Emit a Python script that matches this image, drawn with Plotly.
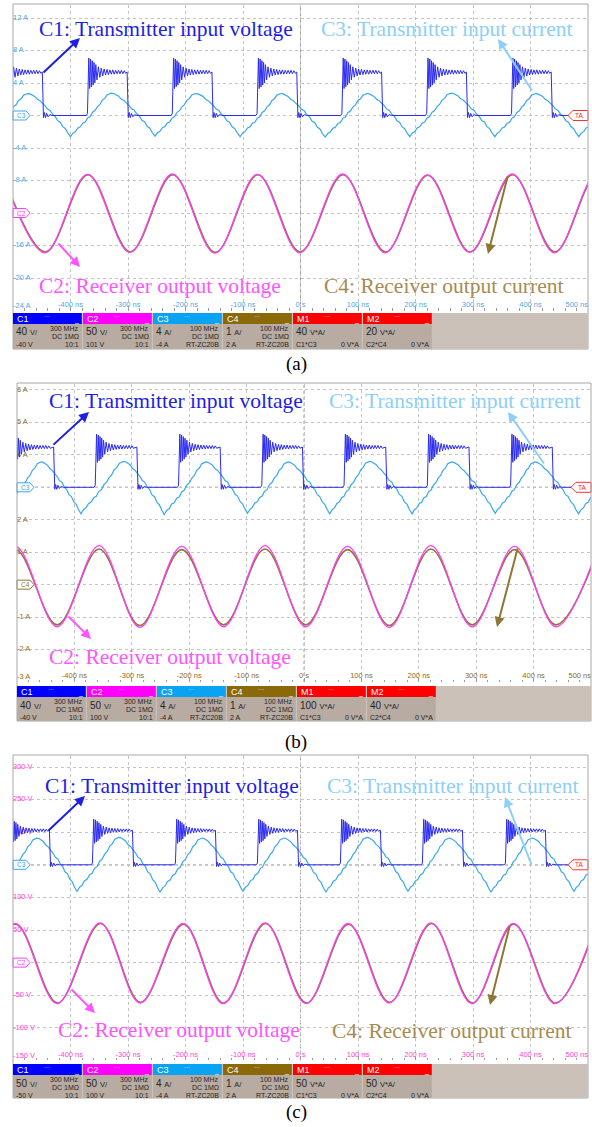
import plotly.graph_objects as go

W, H = 592, 1127

# ---------------------------------------------------------------- shared data
TIME_TICKS = [-400, -300, -200, -100, 0, 100, 200, 300, 400, 500]
TIME_TEXT = ["-400 ns", "-300 ns", "-200 ns", "-100 ns", "0 s",
             "100 ns", "200 ns", "300 ns", "400 ns", "500 ns"]

# C1 edge shape, normalised to low = 0 / high = 1, offsets in ns from the edge
C1_RISE_OFFSET = [-3.0, -1.0, 0.4, 1.3, 2.8, 4.3, 5.8, 7.3, 8.8, 10.3, 11.8, 13.5, 15.5,
                  18.0, 20.5, 23.0, 25.5, 28.0, 30.5, 33.0, 35.5, 38.0, 40.5, 43.0, 45.5,
                  48.0, 50.5, 53.0, 55.5, 58.0, 60.5, 63.0, 65.5]
C1_RISE_SHAPE = [0.0, 0.05, 0.9, 1.32, 0.62, 1.3, 0.66, 1.26, 0.7, 1.22, 0.75, 1.17, 0.82,
                 1.12, 0.88, 1.09, 0.91, 1.07, 0.93, 1.06, 0.94, 1.05, 0.95, 1.05, 0.95,
                 1.04, 0.96, 1.04, 0.96, 1.04, 0.96, 1.03, 0.97]
C1_FALL_OFFSET = [-1.0, 1.0, 2.5, 4.5, 6.5, 9.0, 12.0, 16.0]
C1_FALL_SHAPE = [1.0, -0.05, 0.07, -0.05, 0.05, -0.03, 0.02, 0.0]

# C3 half-cycle shapes (peak -> trough and trough -> peak), normalised to +-1
C3_DOWN_U = [0.0, 0.05, 0.1, 0.16, 0.22, 0.28, 0.34, 0.4, 0.46, 0.52, 0.58, 0.64, 0.7,
             0.76, 0.82, 0.88, 0.94, 1.0]
C3_DOWN_SHAPE = [1.0, 0.985, 0.94, 0.87, 0.74, 0.67, 0.55, 0.44, 0.28, 0.22, 0.04, -0.06,
                 -0.26, -0.33, -0.54, -0.63, -0.84, -1.0]
C3_UP_U = [0.0, 0.06, 0.12, 0.18, 0.24, 0.3, 0.36, 0.42, 0.48, 0.54, 0.6, 0.66, 0.72,
           0.78, 0.84, 0.9, 0.95, 1.0]
C3_UP_SHAPE = [-1.0, -0.84, -0.77, -0.6, -0.55, -0.38, -0.33, -0.14, -0.08, 0.12, 0.2, 0.38,
               0.48, 0.68, 0.76, 0.93, 0.97, 1.0]

CH_NAMES = ["C1", "C2", "C3", "C4"]
CH_BANDWIDTH = ["300 MHz", "300 MHz", "100 MHz", "100 MHz"]
CH_COUPLING = ["DC 1MΩ", "DC 1MΩ", "DC 1MΩ", "DC 1MΩ"]
CH_PROBE = ["10:1", "10:1", "RT-ZC20B", "RT-ZC20B"]
MATH_NAMES = ["M1", "M2"]
MATH_SOURCE = ["C1*C3", "C2*C4"]
MATH_OFFSET = ["0 V*A", "0 V*A"]

# ---------------------------------------------------------------- panel (a)
A_YTICKS = [12, 8, 4, -4, -8, -16, -20, -24]
A_YTEXT = ["12 A", "8 A", "4 A", "-4 A", "-8 A", "-16 A", "-20 A", "-24 A"]
A_C1_RISE = [-517.0, -369.5, -222.0, -74.5, 73.0, 220.5, 368.0]
A_C1_FALL = [-448.0, -300.5, -153.0, -5.5, 142.0, 289.5, 437.0]
A_C1_LEVEL = [0.0, 5.35]
A_C3_T = [-548, -474, -400, -329, -253, -182, -105, -34, 43, 116, 190, 262, 338, 409, 484, 555]
A_C3_V = [-2.6, 2.7, -2.6, 2.75, -2.55, 2.7, -2.6, 2.7, -2.65, 2.7, -2.6, 2.75, -2.6, 2.7, -2.6, 2.7]
A_C2_T = [-518, -444.5, -370.5, -297, -223, -149, -75, -1.5, 73, 147, 220.5, 294, 368, 441.5, 515.5, 589]
A_C2_V = [-7.2, -16.9, -7.25, -16.85, -7.2, -16.95, -7.25, -16.9, -7.2, -16.9, -7.3, -16.85,
          -7.2, -16.9, -7.25, -16.9]
A_C4_T = [-517, -443.5, -369.5, -296, -222, -148, -74, -0.5, 74, 148, 221.5, 295, 369, 442.5, 516.5, 590]
A_C4_V = [-7.3, -16.8, -7.3, -16.8, -7.3, -16.85, -7.3, -16.8, -7.3, -16.8, -7.35, -16.8,
          -7.3, -16.8, -7.3, -16.8]
A_CH_SCALE = ["40 V/", "50 V/", "4 A/", "1 A/"]
A_CH_OFFSET = ["-40 V", "101 V", "-4 A", "2 A"]
A_MATH_SCALE = ["40 V*A/", "20 V*A/"]

# ---------------------------------------------------------------- panel (b)
B_YTICKS = [6, 5, 4, 2, 1, -1, -2, -3]
B_YTEXT = ["6 A", "5 A", "4 A", "2 A", "1 A", "-1 A", "-2 A", "-3 A"]
B_C1_RISE = [-507.8, -362.7, -217.6, -72.5, 70.8, 215.9, 361.0]
B_C1_FALL = [-435.2, -290.2, -145.1, -1.7, 143.4, 288.4, 433.5]
B_C1_LEVEL = [3.0, 4.24]
B_C3_T = [-528, -457.7, -388.6, -314.3, -243.5, -171, -98.4, -27.6, 44.9, 114, 188.3, 257.3,
          333.3, 402.4, 478.4, 548]
B_C3_V = [2.18, 3.78, 2.18, 3.8, 2.16, 3.78, 2.2, 3.78, 2.18, 3.8, 2.18, 3.78, 2.2, 3.78, 2.18, 3.78]
B_C2_T = [-575, -503, -430, -357, -286, -213, -140, -68, 3, 76, 148.5, 221, 293, 367, 439, 513]
B_C2_V = [-1.3, 1.18, -1.3, 1.2, -1.32, 1.18, -1.3, 1.2, -1.3, 1.18, -1.32, 1.2, -1.3, 1.18, -1.3, 1.2]
B_C4_T = [-575, -503, -430, -357, -286, -213, -140, -68, 3, 76, 148.5, 221, 293, 367, 439, 513]
B_C4_V = [-1.24, 1.08, -1.24, 1.1, -1.26, 1.08, -1.24, 1.1, -1.24, 1.08, -1.26, 1.1, -1.24, 1.08, -1.24, 1.1]
B_CH_SCALE = ["40 V/", "50 V/", "4 A/", "1 A/"]
B_CH_OFFSET = ["-40 V", "100 V", "-4 A", "2 A"]
B_MATH_SCALE = ["100 V*A/", "40 V*A/"]

# ---------------------------------------------------------------- panel (c)
C_YTICKS = [300, 250, 200, 100, 50, -50, -100, -150]
C_YTEXT = ["300 V", "250 V", "200 V", "100 V", "50 V", "-50 V", "-100 V", "-150 V"]
C_C1_RISE = [-505.2, -360.9, -216.5, -73.9, 70.4, 213.0, 357.4]
C_C1_FALL = [-435.7, -291.3, -147.0, -4.3, 140.0, 282.6, 426.9]
C_C1_LEVEL = [150.0, 203.0]
C_C3_T = [-531, -458.3, -388.7, -315.7, -244.3, -171.3, -100, -28.7, 44.3, 115.7, 186.9, 258.3,
          331.3, 402.6, 475.7, 545]
C_C3_V = [109, 191, 109, 192, 108, 191, 109, 191, 108, 192, 109, 191, 108, 191, 109, 191]
C_C2_T = [-570, -496.5, -423.5, -348.7, -279, -204.3, -134.8, -61.7, 9.6, 82.6, 154, 227, 298,
          370, 442.6, 514]
C_C2_V = [-63, 60, -63, 61, -62, 60, -63, 61, -63, 60, -62, 61, -63, 60, -63, 61]
C_C4_T = [-569, -495.5, -422.5, -347.7, -278, -203.3, -133.8, -60.7, 10.6, 83.6, 155, 228, 299,
          371, 443.6, 515]
C_C4_V = [-62, 59, -62, 60, -61, 59, -62, 60, -62, 59, -61, 60, -62, 59, -62, 60]
C_CH_SCALE = ["50 V/", "50 V/", "4 A/", "1 A/"]
C_CH_OFFSET = ["-50 V", "100 V", "-4 A", "2 A"]
C_MATH_SCALE = ["50 V*A/", "50 V*A/"]

# ---------------------------------------------------------------- styles
COL_C1 = "#2b2bf2"
COL_C2 = "#ff3cff"
COL_C3 = "#3aa8ee"
COL_C4 = "#8e7636"
TXT_C1 = "#1e1ee6"
TXT_C2 = "#ff55ff"
TXT_C3 = "#8dcffa"
TXT_C4 = "#a68b52"
HEAD_COLORS = ["#0000ff", "#ff00ff", "#0aa2f2", "#8b6808", "#ff0000", "#ff0000"]
BODY_COLOR = "#b8aba1"
REST_COLOR = "#ccc1b9"
SANS = "Liberation Sans"
SERIF = "Liberation Serif"


def c1_wave(rises, falls, levels):
    low, high = levels
    step = high - low
    t, v = [rises[0] - 40.0], [low]
    for r, f in zip(rises, falls):
        for o, s in zip(C1_RISE_OFFSET, C1_RISE_SHAPE):
            if r + o < f - 1.0:
                t.append(r + o)
                v.append(low + step * s)
        for o, s in zip(C1_FALL_OFFSET, C1_FALL_SHAPE):
            t.append(f + o)
            v.append(low + step * s)
    t.append(560.0)
    v.append(low)
    return t, v


def c3_wave(ext_t, ext_v):
    t, v = [], []
    for i in range(len(ext_t) - 1):
        t0, t1, v0, v1 = ext_t[i], ext_t[i + 1], ext_v[i], ext_v[i + 1]
        us, shape = (C3_DOWN_U, C3_DOWN_SHAPE) if v1 < v0 else (C3_UP_U, C3_UP_SHAPE)
        mid, half = (v0 + v1) / 2.0, abs(v0 - v1) / 2.0
        for u, s in zip(us[:-1], shape[:-1]):
            t.append(t0 + u * (t1 - t0))
            v.append(mid + half * s)
    t.append(ext_t[-1])
    v.append(ext_v[-1])
    return t, v


PANELS = [
    dict(caption="(a)", left=13, right=588, top=5, bottom=310.5, ylo=-24, div=4, pxdiv=32.5,
         bar=(313, 324, 349), cap_y=364, axis_col="#4ea8e6",
         yticks=A_YTICKS, ytext=A_YTEXT,
         c1=(A_C1_RISE, A_C1_FALL, A_C1_LEVEL), c3=(A_C3_T, A_C3_V),
         c2=(A_C2_T, A_C2_V), c4=(A_C4_T, A_C4_V),
         scale=A_CH_SCALE, offset=A_CH_OFFSET, mscale=A_MATH_SCALE,
         tags=[("C3", 0, COL_C3, COL_C3), ("C2", -12, COL_C2, COL_C2)], trig=0,
         labels=[("C1: Transmitter input voltage", TXT_C1, 166, 29),
                 ("C3: Transmitter input current", TXT_C3, 446, 29),
                 ("C2: Receiver output voltage", TXT_C2, 160, 286),
                 ("C4: Receiver output current", TXT_C4, 443, 286)],
         arrows=[(TXT_C1, 42, 74, 80, 38), (TXT_C3, 533, 92, 498, 39),
                 (TXT_C2, 57, 242, 80, 267), (COL_C4, 508, 175, 488, 254)]),
    dict(caption="(b)", left=17, right=591, top=384, bottom=682, ylo=-3, div=1, pxdiv=32.45,
         bar=(686, 697, 721), cap_y=742, axis_col="#8c6d22",
         yticks=B_YTICKS, ytext=B_YTEXT,
         c1=(B_C1_RISE, B_C1_FALL, B_C1_LEVEL), c3=(B_C3_T, B_C3_V),
         c2=(B_C2_T, B_C2_V), c4=(B_C4_T, B_C4_V),
         scale=B_CH_SCALE, offset=B_CH_OFFSET, mscale=B_MATH_SCALE,
         tags=[("C3", 3, COL_C3, COL_C3), ("C4", 0, COL_C4, COL_C4)], trig=3,
         labels=[("C1: Transmitter input voltage", TXT_C1, 176, 401),
                 ("C3: Transmitter input current", TXT_C3, 455, 401),
                 ("C2: Receiver output voltage", TXT_C2, 170, 657)],
         arrows=[(TXT_C1, 52, 446, 89, 412), (TXT_C3, 545, 465, 508, 412),
                 (TXT_C2, 67, 615, 91, 639), (COL_C4, 518, 547, 497, 627)]),
    dict(caption="(c)", left=13, right=588, top=756, bottom=1060.4, ylo=-150, div=50, pxdiv=32.6,
         bar=(1064, 1075, 1098), cap_y=1112, axis_col="#ff3fd2",
         yticks=C_YTICKS, ytext=C_YTEXT,
         c1=(C_C1_RISE, C_C1_FALL, C_C1_LEVEL), c3=(C_C3_T, C_C3_V),
         c2=(C_C2_T, C_C2_V), c4=(C_C4_T, C_C4_V),
         scale=C_CH_SCALE, offset=C_CH_OFFSET, mscale=C_MATH_SCALE,
         tags=[("C3", 150, COL_C3, COL_C3), ("C2", 0, COL_C2, COL_C2)], trig=150,
         labels=[("C1: Transmitter input voltage", TXT_C1, 172, 786),
                 ("C3: Transmitter input current", TXT_C3, 452, 786),
                 ("C2: Receiver output voltage", TXT_C2, 179, 1030),
                 ("C4: Receiver output current", TXT_C4, 451, 1031)],
         arrows=[(TXT_C1, 47, 832, 85, 796), (TXT_C3, 532, 866, 505, 797),
                 (TXT_C2, 70, 988, 95, 1013), (COL_C4, 510, 925, 490, 1005)]),
]


def PX(x):
    return x / W


def PY(y):
    return 1.0 - y / H


fig = go.Figure()
shapes, annots, axes = [], [], {}


def rect(x0, y0, x1, y1, fill, line=None):
    shapes.append(dict(type="rect", xref="paper", yref="paper",
                       x0=PX(x0), x1=PX(x1), y0=PY(y1), y1=PY(y0),
                       fillcolor=fill, line=dict(width=1 if line else 0, color=line or fill),
                       layer="above"))


def txt(s, x, y, color, size, anchor="left", family=SANS):
    annots.append(dict(text=s, x=PX(x), y=PY(y), xref="paper", yref="paper",
                       xanchor=anchor, yanchor="middle", showarrow=False,
                       font=dict(family=family, size=size, color=color)))


def poly(pts, line, fill):
    path = "M " + " L ".join(f"{PX(a):.5f},{PY(b):.5f}" for a, b in pts) + " Z"
    shapes.append(dict(type="path", path=path, xref="paper", yref="paper",
                       line=dict(color=line, width=1), fillcolor=fill, layer="above"))


for i, P in enumerate(PANELS):
    sfx = "" if i == 0 else str(i + 1)
    xa, ya = "x" + sfx, "y" + sfx
    upx = P["div"] / P["pxdiv"]               # axis units per pixel
    yhi = P["ylo"] + (P["bottom"] - P["top"]) * upx

    def vpy(v, P=P, upx=upx):
        return P["bottom"] - (v - P["ylo"]) / upx

    # axis labels drawn as text under the waveforms
    ylab_y = [v + (4.5 * upx if v == P["ylo"] else 0) for v in P["yticks"]]
    fig.add_trace(go.Scatter(x=[-500] * len(P["yticks"]), y=ylab_y, text=P["ytext"], mode="text",
                             textposition="middle right", cliponaxis=False, hoverinfo="skip",
                             textfont=dict(family=SANS, size=7.5, color=P["axis_col"]),
                             xaxis=xa, yaxis=ya))
    fig.add_trace(go.Scatter(x=TIME_TICKS, y=[P["ylo"] + 5.5 * upx] * len(TIME_TICKS),
                             text=TIME_TEXT, mode="text", cliponaxis=False, hoverinfo="skip",
                             textposition=["middle center"] * (len(TIME_TICKS) - 1) + ["middle left"],
                             textfont=dict(family=SANS, size=7.5, color=P["axis_col"]),
                             xaxis=xa, yaxis=ya))

    t4, v4 = P["c4"]
    t2, v2 = P["c2"]
    t3, v3 = c3_wave(*P["c3"])
    t1, v1 = c1_wave(*P["c1"])
    fig.add_trace(go.Scatter(x=t4, y=v4, mode="lines", line=dict(color=COL_C4, width=1.6, shape="spline"),
                             xaxis=xa, yaxis=ya, hoverinfo="skip"))
    fig.add_trace(go.Scatter(x=t2, y=v2, mode="lines", line=dict(color=COL_C2, width=1.3, shape="spline"),
                             xaxis=xa, yaxis=ya, hoverinfo="skip"))
    fig.add_trace(go.Scatter(x=t3, y=v3, mode="lines", line=dict(color=COL_C3, width=1.2),
                             xaxis=xa, yaxis=ya, hoverinfo="skip"))
    fig.add_trace(go.Scatter(x=t1, y=v1, mode="lines", line=dict(color=COL_C1, width=1.0),
                             xaxis=xa, yaxis=ya, hoverinfo="skip"))

    axes["xaxis" + sfx] = dict(domain=[PX(P["left"]), PX(P["right"])], anchor=ya, range=[-500, 500],
                               tickmode="linear", tick0=-500, dtick=100, showgrid=True,
                               gridcolor="#c4c4c4", griddash="dot", gridwidth=1,
                               showticklabels=False, zeroline=False, showline=False,
                               ticks="inside", ticklen=4, tickcolor="#9a9a9a",
                               minor=dict(ticks="inside", ticklen=2.5, tick0=-500, dtick=20,
                                          tickcolor="#9a9a9a", showgrid=False),
                               fixedrange=True)
    axes["yaxis" + sfx] = dict(domain=[PY(P["bottom"]), PY(P["top"])], anchor=xa,
                               range=[P["ylo"], yhi], tickmode="linear", tick0=P["ylo"],
                               dtick=P["div"], showgrid=True, gridcolor="#c4c4c4",
                               griddash="dot", gridwidth=1, showticklabels=False,
                               zeroline=False, showline=False, ticks="", fixedrange=True)

    # trigger position and trigger level
    shapes.append(dict(type="line", xref=xa, yref=ya + " domain", x0=0, x1=0, y0=0, y1=1,
                       line=dict(color="#9c9c9c", width=1, dash="dot"), layer="below"))
    shapes.append(dict(type="line", xref=xa + " domain", yref=ya, x0=0, x1=1,
                       y0=P["trig"], y1=P["trig"],
                       line=dict(color="#5a5a5a", width=1, dash="dot"), layer="below"))

    # channel tags on the left and trigger tag on the right
    for name, lvl, lc, tc in P["tags"]:
        y = vpy(lvl)
        x0 = P["left"]
        poly([(x0, y - 4.5), (x0 + 13, y - 4.5), (x0 + 17, y), (x0 + 13, y + 4.5), (x0, y + 4.5)],
             lc, "rgba(255,255,255,0.9)")
        txt(name, x0 + 1.5, y, tc, 6.5)
    y = vpy(P["trig"])
    x1 = P["right"]
    poly([(x1, y - 5), (x1 - 15, y - 5), (x1 - 20, y), (x1 - 15, y + 5), (x1, y + 5)],
         "#ff3030", "white")
    txt("TA", x1 - 9, y, "#ff2020", 6.5, "center")

    # frame around the scope view
    shapes.append(dict(type="rect", xref="paper", yref="paper",
                       x0=PX(P["left"]), x1=PX(P["right"]), y0=PY(P["bar"][2]), y1=PY(P["top"] - 1),
                       line=dict(color="#a8a8a8", width=1), fillcolor="rgba(0,0,0,0)", layer="above"))

    # status bar with channel and math badges
    hy0, hy1, by1 = P["bar"]
    rect(P["left"], hy0, P["right"], by1, REST_COLOR)
    for k in range(6):
        bx0 = P["left"] + k * 70
        bx1 = bx0 + 68.8
        rect(bx0, hy0, bx1, hy1, HEAD_COLORS[k])
        rect(bx0, hy1, bx1, by1, BODY_COLOR)
        name = CH_NAMES[k] if k < 4 else MATH_NAMES[k - 4]
        txt(name, bx0 + 1.5, (hy0 + hy1) / 2 + 0.5, "white", 9)
        txt("···", bx0 + 34, hy0 + 2.5, "white", 6, "center")
        txt("_", bx1 - 5, hy1 - 4, "white", 7, "center")
        if k < 4:
            num, unit = P["scale"][k].split(" ")
            txt(f"{num} <span style='font-size:7.5px'>{unit}</span>", bx0 + 1, hy1 + 8, "#262626", 10)
            txt(CH_BANDWIDTH[k], bx1 - 1, hy1 + 4.5, "#262626", 7, "right")
            txt(CH_COUPLING[k], bx1 - 1, hy1 + 12.5, "#262626", 7, "right")
            txt(P["offset"][k], bx0 + 1, hy1 + 20, "#262626", 7)
            txt(CH_PROBE[k], bx1 - 1, hy1 + 20, "#262626", 7, "right")
        else:
            num, unit = P["mscale"][k - 4].split(" ")
            txt(f"{num} <span style='font-size:7.5px'>{unit}</span>", bx0 + 1, hy1 + 8, "#262626", 10)
            txt(MATH_SOURCE[k - 4], bx0 + 1, hy1 + 20, "#262626", 7)
            txt(MATH_OFFSET[k - 4], bx1 - 1, hy1 + 20, "#262626", 7, "right")

    # trace annotations
    for s, col, cx, cy in P["labels"]:
        txt(s, cx, cy, col, 21.5, "center", SERIF)
    for col, tx, ty, hx, hy in P["arrows"]:
        annots.append(dict(text="", x=PX(hx), y=PY(hy), xref="paper", yref="paper",
                           ax=tx - hx, ay=ty - hy, axref="pixel", ayref="pixel",
                           showarrow=True, arrowhead=2, arrowsize=1.0, arrowwidth=2,
                           arrowcolor=col))

    txt(P["caption"], 296, P["cap_y"], "black", 19, "center", SERIF)

fig.update_layout(width=W, height=H, margin=dict(l=0, r=0, t=0, b=0),
                  paper_bgcolor="white", plot_bgcolor="white", showlegend=False,
                  shapes=shapes, annotations=annots, **axes)
fig.write_html("out.html")
